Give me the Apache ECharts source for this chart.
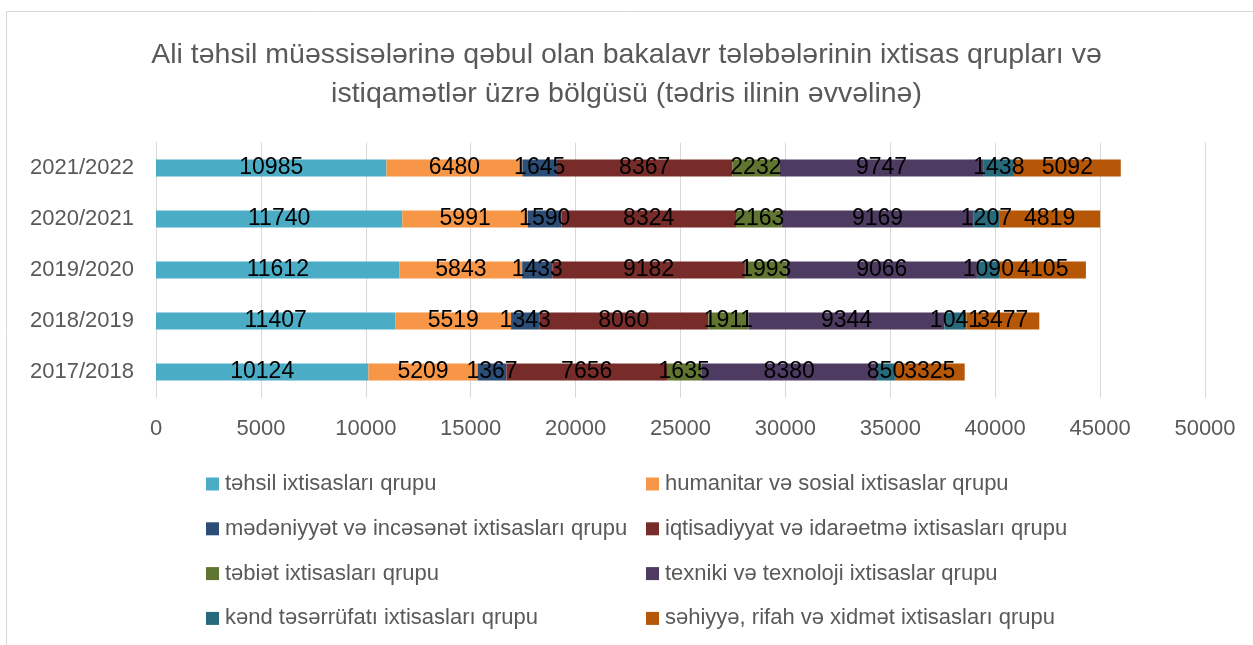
<!DOCTYPE html>
<html>
<head>
<meta charset="utf-8">
<script src="https://cdn.jsdelivr.net/npm/echarts@6/dist/echarts.min.js"></script>
<style>html,body{margin:0;padding:0;background:#fff}#c{width:1253px;height:645px}</style>
</head>
<body>
<div id="c"></div>
<script>
const titleText = "Ali təhsil müəssisələrinə qəbul olan bakalavr tələbələrinin ixtisas qrupları və\nistiqamətlər üzrə bölgüsü (tədris ilinin əvvəlinə)";
const categories = ["2017/2018", "2018/2019", "2019/2020", "2020/2021", "2021/2022"];
const seriesNames = [
  "təhsil ixtisasları qrupu",
  "humanitar və sosial ixtisaslar qrupu",
  "mədəniyyət və incəsənət ixtisasları qrupu",
  "iqtisadiyyat və idarəetmə ixtisasları qrupu",
  "təbiət ixtisasları qrupu",
  "texniki və texnoloji ixtisaslar qrupu",
  "kənd təsərrüfatı ixtisasları qrupu",
  "səhiyyə, rifah və xidmət ixtisasları qrupu"
];
const tehsil = [10124, 11407, 11612, 11740, 10985];
const humanitar = [5209, 5519, 5843, 5991, 6480];
const medeniyyet = [1367, 1343, 1433, 1590, 1645];
const iqtisadiyyat = [7656, 8060, 9182, 8324, 8367];
const tebiet = [1635, 1911, 1993, 2163, 2232];
const texniki = [8380, 9344, 9066, 9169, 9747];
const kend = [850, 1041, 1090, 1207, 1438];
const sehiyye = [3325, 3477, 4105, 4819, 5092];
const xTicks = [0, 5000, 10000, 15000, 20000, 25000, 30000, 35000, 40000, 45000, 50000];

const colors = ["#4bacc6", "#f79646", "#2c4d75", "#772c2a", "#5f7530", "#4d3b62", "#276a7c", "#b65708"];
const allData = [tehsil, humanitar, medeniyyet, iqtisadiyyat, tebiet, texniki, kend, sehiyye];
const FONT = "'Liberation Sans', Arial, sans-serif";

const series = allData.map((d, i) => ({
  name: seriesNames[i],
  type: 'bar',
  stack: 'total',
  data: d,
  barWidth: 17,
  itemStyle: { color: colors[i] },
  label: { show: true, position: 'inside', color: '#000', fontSize: 23, fontFamily: FONT },
  emphasis: { disabled: true }
}));

const legendText = { fontFamily: FONT, fontSize: 22, color: '#595959', padding: [0, 0, 0, 1] };

const chart = echarts.init(document.getElementById('c'), null, { renderer: 'canvas' });
chart.setOption({
  animation: false,
  title: {
    text: titleText,
    left: 'center', top: 31,
    textStyle: { fontFamily: FONT, fontSize: 28.5, fontWeight: 'normal', color: '#595959', lineHeight: 39 }
  },
  graphic: [{ type: 'rect', shape: { x: 6.5, y: 11.5, width: 1300, height: 700 }, style: { fill: 'none', stroke: '#d9d9d9', lineWidth: 1 } }],
  legend: [
    { data: seriesNames.filter((_, i) => i % 2 === 0), orient: 'vertical', left: 201, top: 468, itemGap: 22.8, itemWidth: 13, itemHeight: 13, icon: 'rect',
      textStyle: legendText },
    { data: seriesNames.filter((_, i) => i % 2 === 1), orient: 'vertical', left: 641, top: 468, itemGap: 22.8, itemWidth: 13, itemHeight: 13, icon: 'rect',
      textStyle: legendText }
  ],
  grid: { left: 156, right: 48, top: 142.5, height: 255, containLabel: false },
  xAxis: {
    type: 'value', min: xTicks[0], max: xTicks[xTicks.length - 1], interval: 5000,
    axisLine: { show: false }, axisTick: { show: false },
    splitLine: { lineStyle: { color: '#d9d9d9', width: 1 } },
    axisLabel: { fontFamily: FONT, fontSize: 22, color: '#595959', margin: 20, formatter: v => String(v) }
  },
  yAxis: {
    type: 'category', data: categories,
    axisLine: { lineStyle: { color: '#d9d9d9' } }, axisTick: { show: false },
    axisLabel: { fontFamily: FONT, fontSize: 22, color: '#595959', margin: 22 }
  },
  series: series
});
</script>
</body>
</html>
